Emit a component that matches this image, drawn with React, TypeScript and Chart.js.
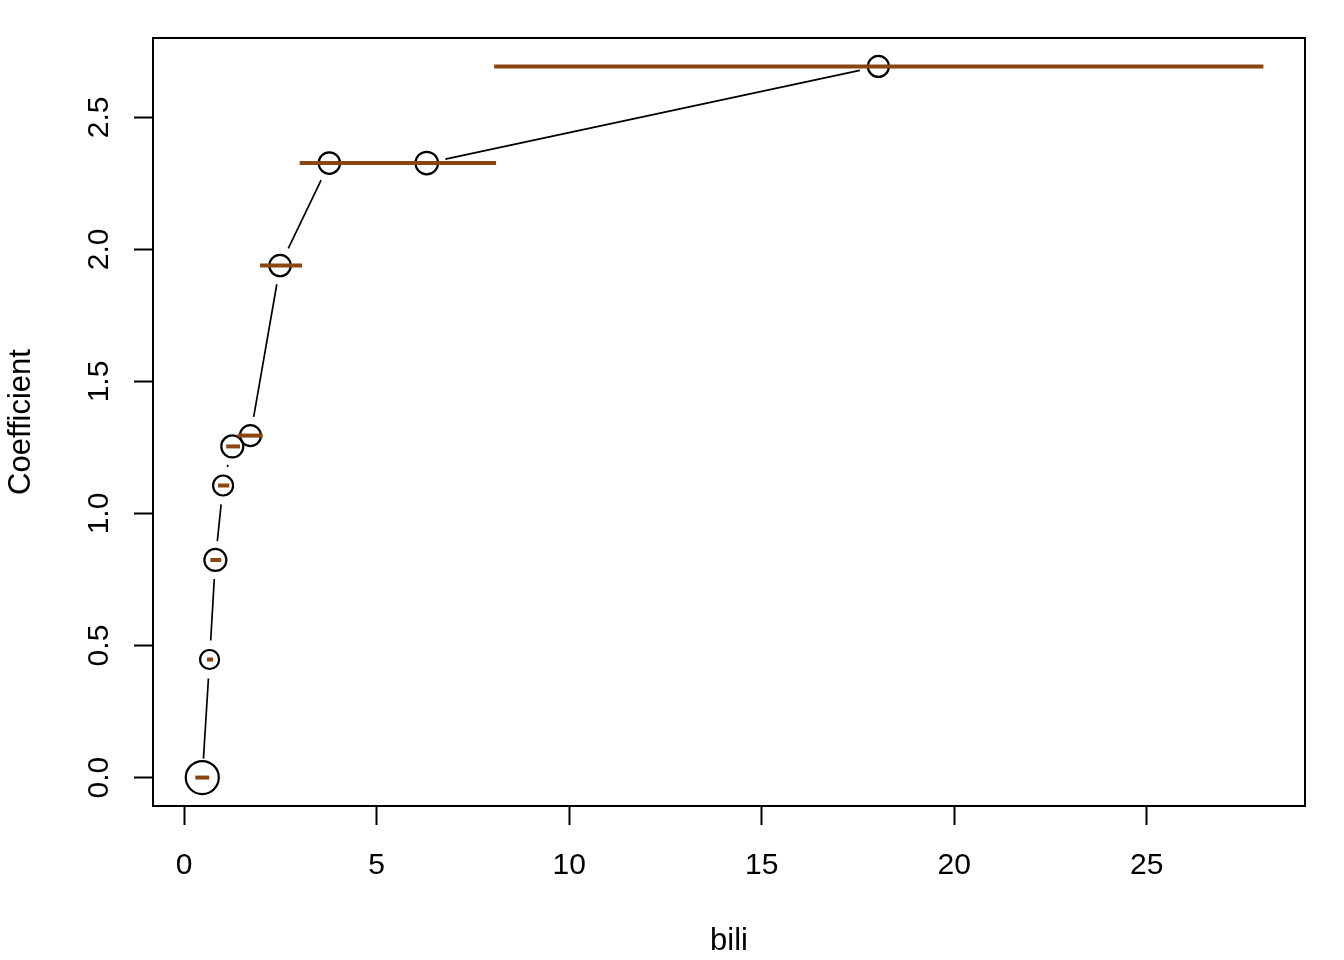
import React, { useEffect, useRef } from "react";
import { Chart, registerables } from "chart.js";

Chart.register(...registerables);

// Fitted coefficients at group centres (x = bili, y = coefficient)
const biliPoints = [0.47, 0.66, 0.81, 1.01, 1.25, 1.72, 2.49, 3.77, 6.3, 18.03];
const coefPoints = [0, 0.447, 0.824, 1.106, 1.254, 1.295, 1.939, 2.327, 2.327, 2.693];
const pointSizes = [16.5, 9.5, 11, 10, 11, 10.5, 10.7, 10.7, 11.3, 10.5];

// Step-function segments (interval start, end, value)
const stepStarts = [0.29, 0.59, 0.68, 0.88, 1.09, 1.39, 1.97, 3.0, 8.05];
const stepEnds = [0.65, 0.75, 0.96, 1.17, 1.45, 2.04, 3.06, 8.1, 28.03];
const stepValues = [0, 0.447, 0.824, 1.106, 1.254, 1.295, 1.939, 2.327, 2.693];

const xTicks = [0, 5, 10, 15, 20, 25];
const yTicks = [0, 0.5, 1.0, 1.5, 2.0, 2.5];

const FONT = "'Liberation Sans', Arial, sans-serif";
const FS = 30;
const FS_TITLE = 31;
const BROWN = "#8B4513";

const gapLinePlugin = {
  id: "gapLine",
  beforeDatasetsDraw(chart: any) {
    const { ctx, scales } = chart;
    const xs = scales.x;
    const ys = scales.y;
    const gap = 19;
    ctx.save();
    ctx.strokeStyle = "#000";
    ctx.lineWidth = 1.7;
    for (let i = 0; i < biliPoints.length - 1; i++) {
      const x0 = xs.getPixelForValue(biliPoints[i]);
      const y0 = ys.getPixelForValue(coefPoints[i]);
      const x1 = xs.getPixelForValue(biliPoints[i + 1]);
      const y1 = ys.getPixelForValue(coefPoints[i + 1]);
      const dx = x1 - x0;
      const dy = y1 - y0;
      const d = Math.sqrt(dx * dx + dy * dy);
      if (d <= 2 * gap) continue;
      const ux = dx / d;
      const uy = dy / d;
      ctx.beginPath();
      ctx.moveTo(x0 + ux * gap, y0 + uy * gap);
      ctx.lineTo(x1 - ux * gap, y1 - uy * gap);
      ctx.stroke();
    }
    ctx.restore();
  },
};

const boxPlugin = {
  id: "boxPlot",
  afterDraw(chart: any) {
    const { ctx, chartArea } = chart;
    ctx.save();
    ctx.strokeStyle = "#000";
    ctx.lineWidth = 2;
    ctx.strokeRect(
      chartArea.left,
      chartArea.top,
      chartArea.right - chartArea.left,
      chartArea.bottom - chartArea.top
    );
    ctx.restore();
  },
};

export default function App() {
  const canvasRef = useRef<HTMLCanvasElement | null>(null);

  useEffect(() => {
    if (!canvasRef.current) return;

    const stepDatasets = stepStarts.map((s, i) => ({
      type: "line" as const,
      data: [
        { x: s, y: stepValues[i] },
        { x: stepEnds[i], y: stepValues[i] },
      ],
      borderColor: BROWN,
      borderWidth: 4,
      borderCapStyle: "butt" as const,
      pointRadius: 0,
      showLine: true,
      fill: false,
      order: 0,
    }));

    const chart = new Chart(canvasRef.current, {
      type: "scatter",
      data: {
        datasets: [
          {
            data: biliPoints.map((b, i) => ({ x: b, y: coefPoints[i] })),
            pointRadius: pointSizes,
            pointBorderColor: "#000",
            pointBackgroundColor: "rgba(0,0,0,0)",
            pointBorderWidth: 2.2,
            showLine: false,
            order: 1,
          } as any,
          ...stepDatasets,
        ],
      },
      options: {
        animation: false,
        responsive: false,
        devicePixelRatio: 1,
        layout: { padding: { top: 38, right: 39, left: 0, bottom: 0 } },
        plugins: {
          legend: { display: false },
          tooltip: { enabled: false },
        },
        scales: {
          x: {
            type: "linear",
            min: -0.81,
            max: 29.11,
            afterBuildTicks: (scale: any) => {
              scale.ticks = xTicks.map((v) => ({ value: v }));
            },
            afterFit: (scale: any) => {
              scale.height = 154;
            },
            border: { display: false },
            grid: {
              drawOnChartArea: false,
              drawTicks: true,
              tickLength: 19,
              tickWidth: 2,
              tickColor: "#000",
            },
            ticks: {
              color: "#000",
              font: { family: FONT, size: FS },
              padding: 23,
              maxRotation: 0,
              minRotation: 0,
              callback: (v: any) => String(v),
            },
            title: {
              display: true,
              text: "bili",
              color: "#000",
              font: { family: FONT, size: FS_TITLE },
              padding: { top: 0, bottom: 0 },
            },
          },
          y: {
            type: "linear",
            min: -0.1077,
            max: 2.8007,
            afterBuildTicks: (scale: any) => {
              scale.ticks = yTicks.map((v) => ({ value: v }));
            },
            afterFit: (scale: any) => {
              scale.width = 153;
            },
            border: { display: false },
            grid: {
              drawOnChartArea: false,
              drawTicks: true,
              tickLength: 19,
              tickWidth: 2,
              tickColor: "#000",
            },
            ticks: {
              color: "#000",
              font: { family: FONT, size: FS },
              padding: 13,
              minRotation: 90,
              maxRotation: 90,
              crossAlign: "center",
              callback: (v: any) => Number(v).toFixed(1),
            },
            title: {
              display: true,
              text: "Coefficient",
              color: "#000",
              font: { family: FONT, size: FS_TITLE },
              padding: { top: 3, bottom: 0 },
            },
          },
        },
      } as any,
      plugins: [gapLinePlugin, boxPlugin],
    });

    return () => chart.destroy();
  }, []);

  return (
    <div style={{ position: "absolute", left: 0, top: 0, width: 1344, height: 960, background: "#fff" }}>
      <canvas ref={canvasRef} width={1344} height={960} style={{ width: 1344, height: 960 }} />
    </div>
  );
}
